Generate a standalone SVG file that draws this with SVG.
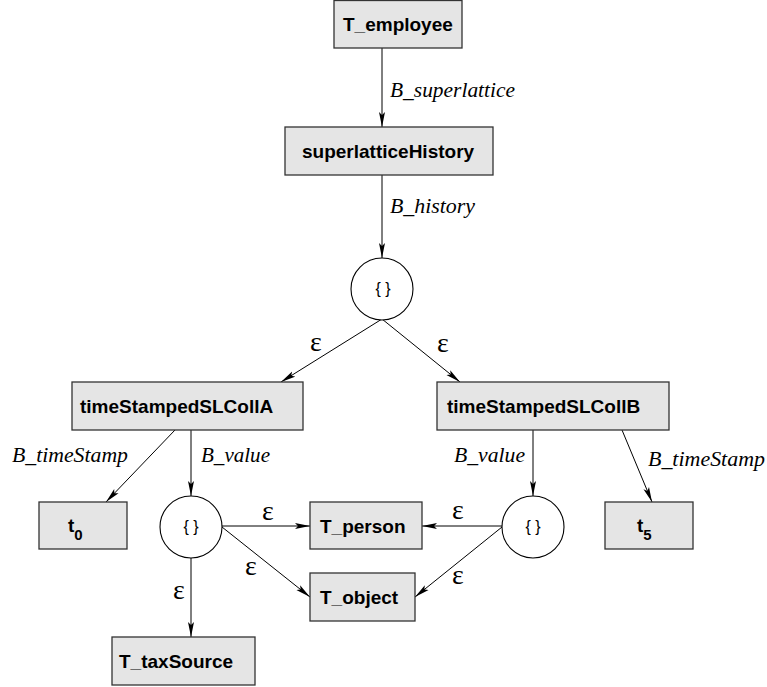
<svg xmlns="http://www.w3.org/2000/svg" width="767" height="687" viewBox="0 0 767 687">
<style>
.box{fill:#e5e5e5;stroke:#333;stroke-width:1.3}
.circ{fill:#fff;stroke:#000;stroke-width:1.1}
.lbl{font-family:"Liberation Sans",Arial,sans-serif;font-weight:bold;font-size:19px;fill:#000}
.sub{font-family:"Liberation Sans",Arial,sans-serif;font-weight:bold;font-size:15px;fill:#000}
.set{font-family:"Liberation Sans",Arial,sans-serif;font-size:16px;fill:#000;text-anchor:middle}
.el{font-family:"Liberation Serif","Times New Roman",serif;font-style:italic;font-size:20px;fill:#000}
.eps{font-family:"Liberation Serif","Times New Roman",serif;font-size:28px;fill:#000;text-anchor:middle}
.edge{stroke:#000;stroke-width:1;fill:none;marker-end:url(#arr)}
</style>
<defs>
<marker id="arr" markerUnits="userSpaceOnUse" markerWidth="16" markerHeight="8" refX="15" refY="3.5" orient="auto">
<path d="M0,0.5 L15,3.5 L0,6.5 L3,3.5 z" fill="#000"/>
</marker>
</defs>
<g id="connectors">
<line class="edge" x1="382" y1="48" x2="382" y2="127"/>
<line class="edge" x1="382" y1="175" x2="382" y2="258"/>
<line class="edge" x1="382" y1="319" x2="281" y2="382"/>
<line class="edge" x1="382" y1="319" x2="460" y2="382"/>
<line class="edge" x1="175" y1="430" x2="106" y2="502"/>
<line class="edge" x1="191" y1="430" x2="191" y2="496"/>
<line class="edge" x1="222" y1="526" x2="310" y2="526"/>
<line class="edge" x1="222" y1="527" x2="310" y2="597"/>
<line class="edge" x1="191" y1="558" x2="191" y2="637"/>
<line class="edge" x1="502" y1="526" x2="422" y2="526"/>
<line class="edge" x1="502" y1="527" x2="415" y2="597"/>
<line class="edge" x1="533" y1="430" x2="533" y2="496"/>
<line class="edge" x1="622" y1="430" x2="652" y2="502"/>
<text class="el" x="390" y="97" textLength="125" lengthAdjust="spacingAndGlyphs">B_superlattice</text>
<text class="el" x="390" y="213" textLength="85" lengthAdjust="spacingAndGlyphs">B_history</text>
<text class="el" x="12" y="462" textLength="116" lengthAdjust="spacingAndGlyphs">B_timeStamp</text>
<text class="el" x="201" y="462" textLength="69" lengthAdjust="spacingAndGlyphs">B_value</text>
<text class="el" x="454" y="462" textLength="71" lengthAdjust="spacingAndGlyphs">B_value</text>
<text class="el" x="648" y="466" textLength="117" lengthAdjust="spacingAndGlyphs">B_timeStamp</text>
<text class="eps" x="316" y="351">ε</text>
<text class="eps" x="443" y="352">ε</text>
<text class="eps" x="268" y="520">ε</text>
<text class="eps" x="251" y="575">ε</text>
<text class="eps" x="179" y="599">ε</text>
<text class="eps" x="458" y="519">ε</text>
<text class="eps" x="458" y="584">ε</text>
</g>
<g id="T_employee"><rect class="box" x="334" y="0.5" width="128" height="47.5"/><text class="lbl" x="343" y="31">T_employee</text></g>
<g id="superlatticeHistory"><rect class="box" x="285" y="127" width="208" height="48"/><text class="lbl" x="302" y="158">superlatticeHistory</text></g>
<g id="set_top"><circle class="circ" cx="382" cy="289" r="31"/><text class="set" x="383" y="294">{ }</text></g>
<g id="timeStampedSLCollA"><rect class="box" x="72" y="382" width="231" height="48"/><text class="lbl" x="80" y="413">timeStampedSLCollA</text></g>
<g id="timeStampedSLCollB"><rect class="box" x="437" y="382" width="232" height="48"/><text class="lbl" x="447" y="413">timeStampedSLCollB</text></g>
<g id="t0"><rect class="box" x="39" y="502" width="88" height="47"/><text class="lbl" x="68" y="532">t<tspan class="sub" dy="8">0</tspan></text></g>
<g id="set_left"><circle class="circ" cx="191" cy="527" r="31"/><text class="set" x="191" y="532">{ }</text></g>
<g id="T_person"><rect class="box" x="310" y="502" width="112" height="47"/><text class="lbl" x="320" y="533">T_person</text></g>
<g id="T_object"><rect class="box" x="310" y="573" width="105" height="48"/><text class="lbl" x="320" y="604">T_object</text></g>
<g id="set_right"><circle class="circ" cx="533" cy="527" r="31"/><text class="set" x="533" y="532">{ }</text></g>
<g id="t5"><rect class="box" x="605" y="502" width="88" height="47"/><text class="lbl" x="637" y="532">t<tspan class="sub" dy="8">5</tspan></text></g>
<g id="T_taxSource"><rect class="box" x="112" y="637" width="143" height="48"/><text class="lbl" x="119" y="668">T_taxSource</text></g>
</svg>
